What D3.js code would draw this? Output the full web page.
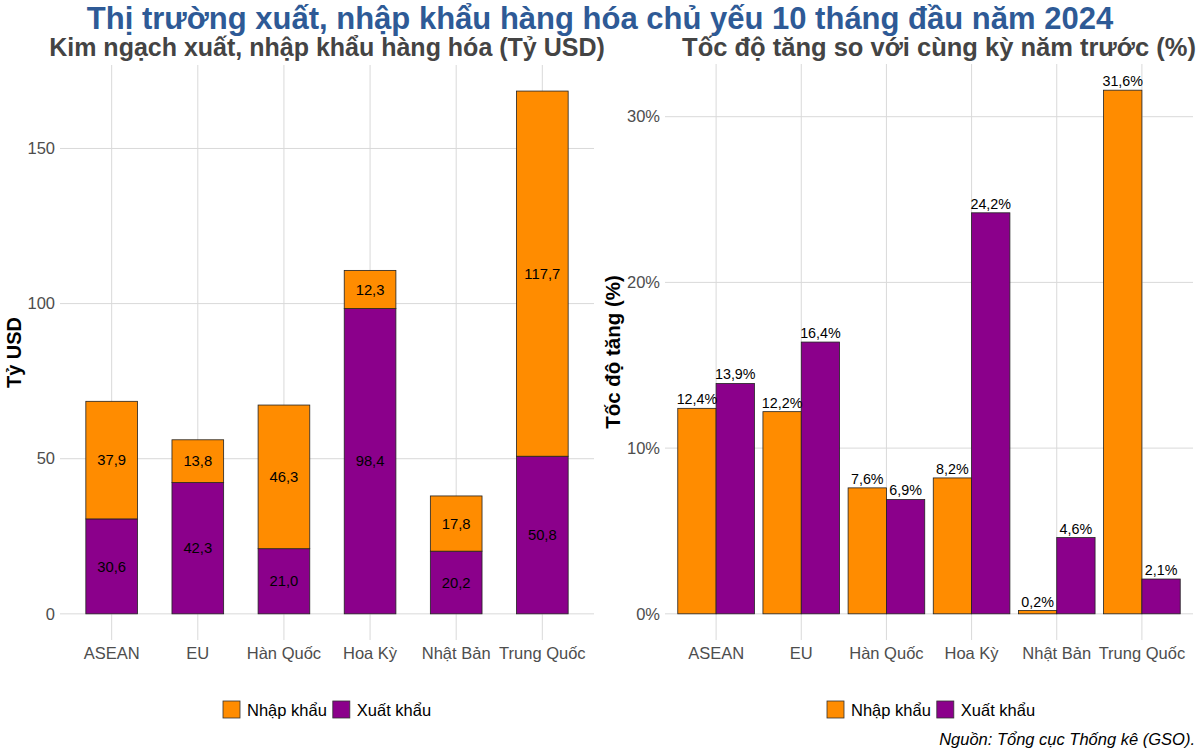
<!DOCTYPE html>
<html><head><meta charset="utf-8">
<script src="https://cdn.jsdelivr.net/npm/d3@7"></script>
<style>body{margin:0;background:#fff}svg{font-family:"Liberation Sans",Arial,sans-serif}</style>
</head><body><svg id="c" width="1200" height="750"></svg>
<script>
const categories = ["ASEAN","EU","Hàn Quốc","Hoa Kỳ","Nhật Bản","Trung Quốc"];
const series = ["Nhập khẩu","Xuất khẩu"];
const importValue = [37.9,13.8,46.3,12.3,17.8,117.7];
const exportValue = [30.6,42.3,21.0,98.4,20.2,50.8];
const importGrowth = [12.4,12.2,7.6,8.2,0.2,31.6];
const exportGrowth = [13.9,16.4,6.9,24.2,4.6,2.1];
const leftTicks = [0,50,100,150];
const rightTicks = [0,10,20,30];
const colors = {"Nhập khẩu":"#FF8C00","Xuất khẩu":"#8B008B"};
const fmt = v => d3.format(".1f")(v).replace(".",",");

const svg = d3.select("#c");
const grid = "#d9d9d9", tickCol = "#4d4d4d";

svg.append("text").attr("x",600).attr("y",29).attr("text-anchor","middle")
  .attr("font-size",31).attr("font-weight","bold").attr("fill","#2E5A96")
  .text("Thị trường xuất, nhập khẩu hàng hóa chủ yếu 10 tháng đầu năm 2024");

function panel(opt){
  const g = svg.append("g");
  const step = (opt.x1-opt.x0)/(categories.length-1+1.2);
  const cx = d => opt.x0 + step*(0.6+categories.indexOf(d));
  const y = d3.scaleLinear().domain(opt.ydom).range([opt.y1,opt.y0]);
  g.selectAll(".hg").data(opt.ticks).join("line")
    .attr("x1",opt.x0).attr("x2",opt.x1).attr("y1",d=>y(d)).attr("y2",d=>y(d))
    .attr("stroke",grid).attr("stroke-width",1);
  g.selectAll(".vg").data(categories).join("line")
    .attr("x1",d=>cx(d)).attr("x2",d=>cx(d)).attr("y1",opt.y0).attr("y2",opt.y1)
    .attr("stroke",grid).attr("stroke-width",1);
  g.selectAll(".yt").data(opt.ticks).join("text")
    .attr("x",opt.x0-5).attr("y",d=>y(d)).attr("dy","0.35em").attr("text-anchor","end")
    .attr("font-size",16.5).attr("fill",tickCol).text(opt.tickFmt);
  g.selectAll(".xt").data(categories).join("text")
    .attr("x",d=>cx(d)).attr("y",opt.y1+19).attr("text-anchor","middle")
    .attr("font-size",16.5).attr("fill",tickCol).text(d=>d);
  g.append("text").attr("x",opt.subX).attr("y",56).attr("text-anchor","middle")
    .attr("font-size",opt.subSize).attr("font-weight","bold").attr("fill","#444444").text(opt.subtitle);
  g.append("text").attr("transform",`translate(${opt.ylabX},${(opt.y0+opt.y1)/2}) rotate(-90)`)
    .attr("text-anchor","middle").attr("font-size",opt.ylabSize).attr("font-weight","bold").attr("fill","#000")
    .text(opt.ylab);
  const lg = g.append("g").attr("transform",`translate(${opt.legX},701)`);
  let lx = 0;
  series.forEach(s=>{
    lg.append("rect").attr("x",lx).attr("y",0).attr("width",17).attr("height",17)
      .attr("fill",colors[s]).attr("stroke","#333").attr("stroke-width",0.8);
    const t = lg.append("text").attr("x",lx+24).attr("y",14.5).attr("font-size",16.5).attr("fill","#000").text(s);
    lx += 24 + t.node().getComputedTextLength() + 6;
  });
  return {g,x:cx,y,step};
}

// Left panel
const L = panel({x0:60,x1:594,y0:65,y1:640,ydom:[-8.43,176.9],ticks:leftTicks,tickFmt:d=>d,
  subtitle:"Kim ngạch xuất, nhập khẩu hàng hóa (Tỷ USD)",subX:327,subSize:25,ylab:"Tỷ USD",ylabSize:20,ylabX:21,legX:223});
const stackData = categories.map((c,i)=>({cat:c,"Xuất khẩu":exportValue[i],"Nhập khẩu":importValue[i]}));
const stacked = d3.stack().keys(["Xuất khẩu","Nhập khẩu"])(stackData);
const bw = L.step*0.6;
stacked.forEach(layer=>{
  L.g.selectAll(null).data(layer).join("rect")
    .attr("x",d=>L.x(d.data.cat)-bw/2).attr("width",bw)
    .attr("y",d=>L.y(d[1])).attr("height",d=>L.y(d[0])-L.y(d[1]))
    .attr("fill",colors[layer.key]).attr("stroke","#222").attr("stroke-width",0.8);
  L.g.selectAll(null).data(layer).join("text")
    .attr("x",d=>L.x(d.data.cat)).attr("y",d=>L.y((d[0]+d[1])/2)).attr("dy","0.35em")
    .attr("text-anchor","middle").attr("font-size",14.8).attr("fill","#000")
    .text(d=>fmt(d[1]-d[0]));
});

// Right panel
const R = panel({x0:665,x1:1193,y0:64,y1:640,ydom:[-1.58,33.18],ticks:rightTicks,tickFmt:d=>d+"%",
  subtitle:"Tốc độ tăng so với cùng kỳ năm trước (%)",subX:939,subSize:25.5,ylab:"Tốc độ tăng (%)",ylabSize:20.5,ylabX:620,legX:827});
const gw = R.step*0.9;
const xs = d3.scaleBand().domain(series).range([-gw/2,gw/2]);
const growthData = [];
categories.forEach((c,i)=>{
  growthData.push({cat:c,s:"Nhập khẩu",v:importGrowth[i]});
  growthData.push({cat:c,s:"Xuất khẩu",v:exportGrowth[i]});
});
R.g.selectAll(null).data(growthData).join("rect")
  .attr("x",d=>R.x(d.cat)+xs(d.s)).attr("width",xs.bandwidth())
  .attr("y",d=>R.y(d.v)).attr("height",d=>R.y(0)-R.y(d.v))
  .attr("fill",d=>colors[d.s]).attr("stroke","#222").attr("stroke-width",0.8);
R.g.selectAll(null).data(growthData).join("text")
  .attr("x",d=>R.x(d.cat)+xs(d.s)+xs.bandwidth()/2).attr("y",d=>R.y(d.v)-4)
  .attr("text-anchor","middle").attr("font-size",14.3).attr("fill","#000")
  .text(d=>fmt(d.v)+"%");

svg.append("text").attr("x",1195).attr("y",745).attr("text-anchor","end")
  .attr("font-size",16.5).attr("font-style","italic").attr("fill","#000")
  .text("Nguồn: Tổng cục Thống kê (GSO).");
</script></body></html>
